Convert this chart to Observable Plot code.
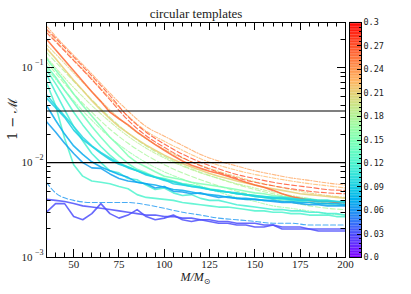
<!DOCTYPE html>
<html><head><meta charset="utf-8">
<script src="https://cdn.jsdelivr.net/npm/d3@7"></script>
<script src="https://cdn.jsdelivr.net/npm/@observablehq/plot@0.6"></script>
<style>
body{margin:0;background:#fff;}
#chart{position:relative;width:411px;height:294px;overflow:hidden;}
#chart svg{position:absolute;top:0;overflow:visible;}
</style></head><body><div id="chart"></div>
<script>
// ---- data ----
const massFine = [35,40,45,50,55,60,65,70,75,80,85,90,95,100,105,110,115,120,125,130,135,140,145,150,155,160,165,170,175,180,185,190,195,200];
const massCoarse = [35,40,50,60,70,80,90,100,110,120,130,140,150,160,170,180,190,200];

// dash-dot / dashed series (coarse grid)
const orangeDashDotA = [0.275,0.215,0.135,0.086,0.054,0.035,0.0240,0.0190,0.0152,0.0122,0.0104,0.0092,0.0082,0.0075,0.0069,0.0065,0.0061,0.0058];
const orangeDashDotB = [0.25,0.195,0.122,0.077,0.048,0.031,0.0215,0.0168,0.0135,0.0110,0.0094,0.0083,0.0075,0.0069,0.0064,0.0060,0.0057,0.0054];
const redDashedA = [0.255,0.205,0.130,0.082,0.051,0.0305,0.0209,0.0157,0.0123,0.0101,0.0086,0.0075,0.0068,0.0062,0.0058,0.0055,0.0052,0.0051];
const redDashedB = [0.235,0.188,0.119,0.075,0.046,0.0280,0.0192,0.0145,0.0113,0.0093,0.0079,0.0069,0.0062,0.0057,0.0053,0.0050,0.0048,0.0047];
const tanDashDot = [0.175,0.14,0.088,0.056,0.036,0.0245,0.0178,0.0138,0.0112,0.0094,0.0081,0.0071,0.0063,0.0057,0.0052,0.0048,0.0045,0.0043];
const greenDashedA = [0.145,0.115,0.072,0.046,0.030,0.0205,0.0150,0.0116,0.0094,0.0079,0.0068,0.0059,0.0052,0.0047,0.0043,0.0040,0.0037,0.0035];
const greenDashDotA = [0.13,0.10,0.062,0.040,0.027,0.0190,0.0142,0.0112,0.0092,0.0078,0.0068,0.0060,0.0054,0.0049,0.0045,0.0042,0.0039,0.0037];
const greenDashedB = [0.115,0.088,0.053,0.034,0.0225,0.0160,0.0120,0.0095,0.0078,0.0066,0.0057,0.0050,0.0045,0.0041,0.0038,0.0035,0.0033,0.0032];
const greenDashDotB = [0.10,0.076,0.045,0.028,0.0185,0.0132,0.0100,0.0080,0.0067,0.0057,0.0049,0.0043,0.0039,0.0035,0.0033,0.0031,0.0029,0.0028];
const blueDashed = [0.0062,0.0048,0.0040,0.0038,0.0038,0.0038,0.0036,0.0033,0.0030,0.0028,0.0026,0.0025,0.0024,0.0023,0.0023,0.0022,0.0022,0.0022];

// solid series (fine grid)
const redSolid = [0.200,0.155,0.120,0.093,0.072,0.056,0.044,0.034,0.029,0.025,0.021,0.018,0.0155,0.0135,0.0118,0.0104,0.0094,0.0087,0.0081,0.0077,0.0072,0.0067,0.0062,0.0058,0.0055,0.0051,0.0047,0.0044,0.0042,0.0040,0.0039,0.0039,0.0038,0.0038];
const tanSolid = [0.160,0.125,0.096,0.074,0.058,0.045,0.036,0.029,0.024,0.0205,0.0176,0.0153,0.0135,0.0120,0.0108,0.0098,0.0090,0.0083,0.0077,0.0072,0.0068,0.0064,0.0061,0.0058,0.0055,0.0053,0.0051,0.0049,0.0047,0.0046,0.0045,0.0044,0.0043,0.0042];
const mintSolidA = [0.125,0.095,0.072,0.053,0.040,0.031,0.024,0.0185,0.0150,0.0118,0.0100,0.0090,0.0080,0.0072,0.0069,0.0066,0.0062,0.0060,0.0058,0.0056,0.0054,0.0052,0.0050,0.0048,0.0047,0.0045,0.0044,0.0043,0.0042,0.0041,0.0040,0.0040,0.0039,0.0039];
const mintSolidB = [0.105,0.080,0.058,0.043,0.032,0.024,0.0185,0.0145,0.0118,0.0098,0.0085,0.0078,0.0071,0.0067,0.0063,0.0060,0.0058,0.0055,0.0053,0.0051,0.0049,0.0047,0.0046,0.0044,0.0043,0.0042,0.0041,0.0040,0.0039,0.0038,0.0037,0.0037,0.0036,0.0036];
const turqSolidA = [0.070,0.040,0.018,0.0095,0.0072,0.0064,0.0062,0.0060,0.0056,0.0053,0.0046,0.0043,0.0042,0.0041,0.0040,0.0038,0.0037,0.0036,0.0035,0.0034,0.0034,0.0033,0.0032,0.0031,0.0031,0.0030,0.0030,0.0029,0.0029,0.0028,0.0028,0.0028,0.0027,0.0027];
const turqSolidB = [0.085,0.055,0.036,0.024,0.017,0.0125,0.0100,0.0082,0.0078,0.0068,0.0066,0.0058,0.0052,0.0054,0.0048,0.0045,0.0046,0.0042,0.0040,0.0040,0.0038,0.0036,0.0035,0.0034,0.0033,0.0032,0.0032,0.0031,0.0031,0.0030,0.0030,0.0029,0.0029,0.0028];
const turqSolidC = [0.095,0.068,0.048,0.034,0.025,0.019,0.0148,0.0120,0.0100,0.0090,0.0082,0.0076,0.0070,0.0068,0.0064,0.0060,0.0058,0.0055,0.0052,0.0050,0.0049,0.0047,0.0046,0.0045,0.0044,0.0043,0.0042,0.0041,0.0040,0.0040,0.0039,0.0039,0.0038,0.0038];
const cyanSolidA = [0.048,0.038,0.030,0.022,0.0175,0.0148,0.0125,0.0108,0.0096,0.0090,0.0082,0.0074,0.0070,0.0066,0.0060,0.0058,0.0056,0.0055,0.0052,0.0050,0.0049,0.0047,0.0046,0.0044,0.0043,0.0042,0.0042,0.0041,0.0040,0.0040,0.0039,0.0039,0.0039,0.0038];
const cyanSolidB = [0.052,0.040,0.031,0.024,0.0185,0.0150,0.0128,0.0112,0.0098,0.0088,0.0082,0.0076,0.0070,0.0065,0.0063,0.0059,0.0056,0.0054,0.0052,0.0051,0.0049,0.0048,0.0046,0.0045,0.0044,0.0043,0.0043,0.0042,0.0041,0.0041,0.0040,0.0040,0.0039,0.0039];
const blueSolidA = [0.027,0.021,0.016,0.0125,0.0100,0.0088,0.0087,0.0076,0.0068,0.0064,0.0062,0.0060,0.0054,0.0056,0.0050,0.0049,0.0047,0.0048,0.0045,0.0043,0.0044,0.0042,0.0041,0.0041,0.0040,0.0039,0.0038,0.0038,0.0037,0.0036,0.0036,0.0035,0.0035,0.0035];
const blueSolidB = [0.040,0.028,0.020,0.015,0.0122,0.0102,0.0090,0.0082,0.0075,0.0070,0.0062,0.0060,0.0058,0.0055,0.0052,0.0051,0.0049,0.0047,0.0046,0.0045,0.0043,0.0042,0.0042,0.0041,0.0040,0.0040,0.0039,0.0039,0.0038,0.0038,0.0037,0.0037,0.0037,0.0036];
const purpleSmooth = [0.0041,0.0040,0.0039,0.0037,0.0035,0.0034,0.0033,0.0032,0.0031,0.0030,0.0029,0.0028,0.0028,0.0027,0.0027,0.0026,0.0026,0.0025,0.0025,0.0024,0.0024,0.0023,0.0023,0.0023,0.0022,0.0022,0.0021,0.0021,0.0021,0.0020,0.0020,0.0020,0.0020,0.0020];
const purpleJagged = [0.0030,0.0037,0.0037,0.0027,0.0025,0.0029,0.0037,0.0029,0.0026,0.0028,0.0032,0.0027,0.0025,0.0026,0.0028,0.0025,0.0024,0.0025,0.0024,0.0023,0.0023,0.0022,0.0022,0.0021,0.0021,0.0022,0.0020,0.0020,0.0020,0.0020,0.0019,0.0019,0.0019,0.0019];

const mismatchLevels = [0.035, 0.01];
const xMajorTicks = [50,75,100,125,150,175,200];
const yMajorTicks = [1e-3,1e-2,1e-1];
const colorbarTicks = [0,0.03,0.06,0.09,0.12,0.15,0.18,0.21,0.24,0.27,0.3];
const titleText = "circular templates";

const seriesList = [
  {id:"oddA", e:0.235, style:"dashdot", mass:massCoarse, values:orangeDashDotA},
  {id:"oddB", e:0.225, style:"dashdot", mass:massCoarse, values:orangeDashDotB},
  {id:"tdd",  e:0.21,  style:"dashdot", mass:massCoarse, values:tanDashDot},
  {id:"gddA", e:0.185, style:"dashdot", mass:massCoarse, values:greenDashDotA},
  {id:"gddB", e:0.165, style:"dashdot", mass:massCoarse, values:greenDashDotB},
  {id:"gdA",  e:0.18,  style:"dashed",  mass:massCoarse, values:greenDashedA},
  {id:"gdB",  e:0.175, style:"dashed",  mass:massCoarse, values:greenDashedB},
  {id:"rdA",  e:0.27,  style:"dashed",  mass:massCoarse, values:redDashedA},
  {id:"rdB",  e:0.27,  style:"dashed",  mass:massCoarse, values:redDashedB},
  {id:"bd",   e:0.06,  style:"dashed",  mass:massCoarse, values:blueDashed},
  {id:"ts",   e:0.21,  style:"solid",   mass:massFine, values:tanSolid},
  {id:"msA",  e:0.15,  style:"solid",   mass:massFine, values:mintSolidA},
  {id:"msB",  e:0.14,  style:"solid",   mass:massFine, values:mintSolidB},
  {id:"tsA",  e:0.12,  style:"solid",   mass:massFine, values:turqSolidA},
  {id:"tsB",  e:0.115, style:"solid",   mass:massFine, values:turqSolidB},
  {id:"tsC",  e:0.125, style:"solid",   mass:massFine, values:turqSolidC},
  {id:"rs",   e:0.26,  style:"solid",   mass:massFine, values:redSolid},
  {id:"csA",  e:0.09,  style:"solid",   mass:massFine, values:cyanSolidA},
  {id:"csB",  e:0.095, style:"solid",   mass:massFine, values:cyanSolidB},
  {id:"bsA",  e:0.065, style:"solid",   mass:massFine, values:blueSolidA},
  {id:"bsB",  e:0.07,  style:"solid",   mass:massFine, values:blueSolidB},
  {id:"psS",  e:0.03,  style:"solid",   mass:massFine, values:purpleSmooth},
  {id:"psJ",  e:0.03,  style:"solid",   mass:massFine, values:purpleJagged}
];
const rows = seriesList.flatMap(s => s.values.map((v, i) => ({id:s.id, e:s.e, style:s.style, m:s.mass[i], v})));

// matplotlib "rainbow"
const rainbow = t => {
  const c = v => Math.round(255 * Math.max(0, Math.min(1, v)));
  return `rgb(${c(Math.abs(2*t - 0.5))},${c(Math.sin(Math.PI*t))},${c(Math.cos(Math.PI*t/2))})`;
};
const colorOpts = {type:"linear", domain:[0, 0.3], interpolate: rainbow};

const W = 411, H = 294, mL = 46, mR = 66, mT = 22, mB = 37;
const serif = "'Liberation Serif', 'DejaVu Serif', serif";
const xMinor = d3.range(40, 201, 5).filter(d => d % 25 !== 0);
const yMinor = [];
for (const p of [1e-3, 1e-2, 1e-1]) for (let k = 2; k <= 9; k++) if (k*p < 0.3) yMinor.push(k*p);

const main = Plot.plot({
  width: W, height: H, marginLeft: mL, marginRight: mR, marginTop: mT, marginBottom: mB,
  style: {fontFamily: serif, background: "transparent"},
  x: {domain: [35, 200]},
  y: {type: "log", domain: [1e-3, 0.3], axis: null},
  color: colorOpts,
  marks: [
    Plot.line(rows.filter(d => d.style === "dashdot"), {x:"m", y:"v", z:"id", stroke:"e", strokeWidth:1.1, strokeOpacity:0.75, strokeDasharray:"4,1.6,1.2,1.6", curve:"monotone-x", clip:true}),
    Plot.line(rows.filter(d => d.style === "dashed"), {x:"m", y:"v", z:"id", stroke:"e", strokeWidth:1.1, strokeOpacity:0.8, strokeDasharray:"5,2.5", curve:"monotone-x", clip:true}),
    Plot.line(rows.filter(d => d.style === "solid"), {x:"m", y:"v", z:"id", stroke:"e", strokeWidth:1.6, strokeOpacity:0.85, clip:true}),
    Plot.ruleY(mismatchLevels, {stroke:"black", strokeWidth:1.2}),
    Plot.frame({stroke:"black", strokeWidth:1}),
    Plot.axisX(xMajorTicks, {anchor:"bottom", tickSize:0, tickPadding:3, label:null, fontSize:11, fontFamily:serif, fill:"#222"}),
    Plot.text(yMajorTicks, {y:d => d, frameAnchor:"left", text:() => "10", textAnchor:"end", dx:-14, fontSize:11, fontFamily:serif, fill:"#222"}),
    Plot.text(yMajorTicks, {y:d => d, frameAnchor:"left", text:d => "\u2212" + Math.round(-Math.log10(d)), textAnchor:"end", dx:-3, dy:-5, fontSize:8, fontFamily:serif, fill:"#222"}),
    Plot.text([titleText], {frameAnchor:"top", lineAnchor:"bottom", dy:-5, fontSize:13, fontFamily:serif, fill:"#222"}),
    Plot.text(["1 \u2212 \u2133"], {frameAnchor:"left", dx:-34, rotate:-90, fontSize:13, fontFamily:"'DejaVu Serif', serif", fill:"#222"})
  ]
});
main.style.left = "0px";
document.getElementById("chart").appendChild(main);

// inward ticks on all four sides, placed through the plot's own scales
const sx = main.scale("x"), sy = main.scale("y");
const x0 = mL, x1 = W - mR, y0 = mT, y1 = H - mB;
const tg = d3.select(main).append("g").attr("stroke", "black").attr("stroke-width", 1);
const vTick = (v, len) => {
  const px = Math.round(sx.apply(v)) + 0.5;
  tg.append("line").attr("x1", px).attr("x2", px).attr("y1", y1).attr("y2", y1 - len);
  tg.append("line").attr("x1", px).attr("x2", px).attr("y1", y0).attr("y2", y0 + len);
};
const hTick = (v, len) => {
  const py = Math.round(sy.apply(v)) + 0.5;
  tg.append("line").attr("y1", py).attr("y2", py).attr("x1", x0).attr("x2", x0 + len);
  tg.append("line").attr("y1", py).attr("y2", py).attr("x1", x1).attr("x2", x1 - len);
};
xMajorTicks.forEach(v => vTick(v, 8));
xMinor.forEach(v => vTick(v, 4.5));
yMajorTicks.forEach(v => hTick(v, 8));
yMinor.forEach(v => hTick(v, 4.5));

// x label with subscript
const xl = d3.select(main).append("text")
  .attr("x", (mL + W - mR) / 2).attr("y", H - 13)
  .attr("text-anchor", "middle").attr("font-family", serif).attr("font-size", 12).attr("fill", "#222");
xl.append("tspan").attr("font-style", "italic").text("M/M");
xl.append("tspan").attr("font-size", 8).attr("dy", 3).attr("font-family", "'DejaVu Sans', sans-serif").text("\u2299");

// colorbar
const cbStep = 0.002;
const cbBins = d3.range(0, 0.3 - 1e-9, cbStep);
const cbMinor = d3.range(0, 0.3001, 0.006);
const cb = Plot.plot({
  width: 62, height: H, marginLeft: 0, marginRight: 50, marginTop: mT, marginBottom: mB,
  style: {background: "transparent"},
  x: {domain: [0, 1], axis: null},
  y: {domain: [0, 0.3], axis: null},
  color: colorOpts,
  marks: [
    Plot.rect(cbBins, {x1:0, x2:1, y1:d => d, y2:d => d + cbStep * 1.05, fill:d => d + cbStep / 2}),
    Plot.frame({stroke:"black", strokeWidth:1}),
    Plot.axisY(colorbarTicks, {anchor:"right", tickSize:0, tickPadding:2, label:null, fontSize:8.5,
      fontFamily:"'DejaVu Sans Mono', monospace", fill:"#222",
      tickFormat:d => d === 0 ? "0.0" : String(+d.toFixed(2))})
  ]
});
cb.style.left = "349px";
document.getElementById("chart").appendChild(cb);
const cy = cb.scale("y");
const cg = d3.select(cb).append("g").attr("stroke", "black").attr("stroke-width", 1);
const cbRight = 12;
cbMinor.forEach(v => {
  const major = colorbarTicks.some(t => Math.abs(t - v) < 1e-9);
  const py = Math.round(cy.apply(v)) + 0.5;
  cg.append("line").attr("x1", cbRight).attr("x2", cbRight - (major ? 4 : 2)).attr("y1", py).attr("y2", py);
});
</script></body></html>
